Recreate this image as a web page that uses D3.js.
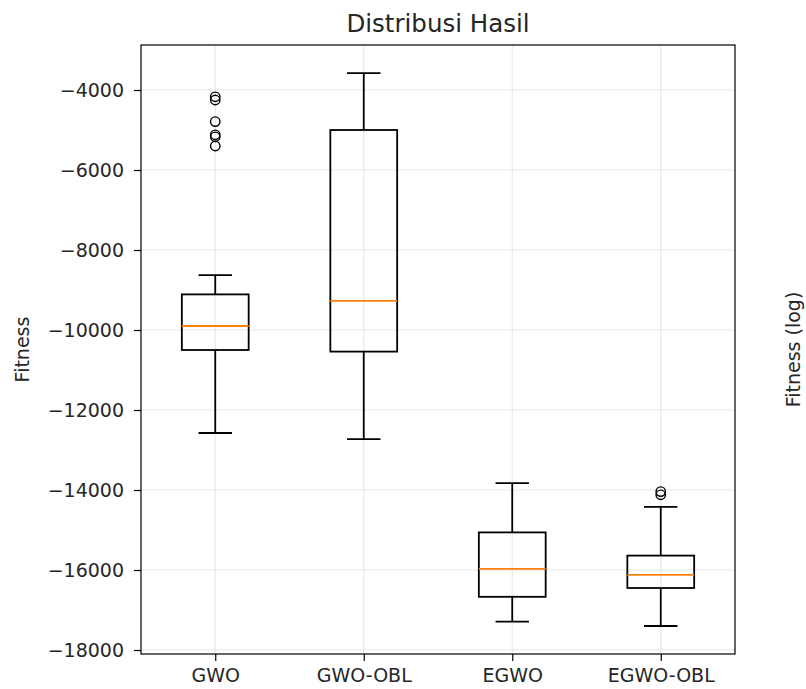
<!DOCTYPE html>
<html>
<head>
    <meta charset="utf-8">
    <title>Distribusi Hasil</title>
    <script src="https://d3js.org/d3.v7.min.js"></script>
    <style>
        body { margin: 0; background: #fff; }
        text { font-family: "DejaVu Sans", sans-serif; fill: #262626; }
        .tick text { font-size: 19px; }
        .grid line { stroke: #b0b0b0; stroke-opacity: 0.3; stroke-width: 1.1px; }
        .box { fill: none; stroke: #000; stroke-width: 1.8px; }
        .median { stroke: #ff7f0e; stroke-width: 1.8px; }
        .flier { fill: none; stroke: #000; stroke-width: 1.4px; }
    </style>
</head>
<body>
    <svg width="806" height="689"></svg>
    <script>
        // values
        var categories = ["GWO", "GWO-OBL", "EGWO", "EGWO-OBL"];
        var whiskerLow  = [-12575, -12730, -17290, -17400];
        var q1          = [-10500, -10540, -16670, -16450];
        var median      = [-9900,  -9270,  -15970, -16120];
        var q3          = [-9110,  -5000,  -15060, -15640];
        var whiskerHigh = [-8630,  -3580,  -13830, -14420];
        var outliers = [
            [-4170, -4250, -4790, -5120, -5170, -5400],
            [],
            [],
            [-14040, -14120]
        ];
        var yTicks = [-18000, -16000, -14000, -12000, -10000, -8000, -6000, -4000];

        var svg = d3.select("svg"),
            margin = {top: 45, right: 71, bottom: 35, left: 141},
            width = +svg.attr("width") - margin.left - margin.right,
            height = +svg.attr("height") - margin.top - margin.bottom;

        var positions = categories.map(function(d, i) { return i + 1; });
        var x = d3.scaleLinear().domain([0.5, 4.5]).range([0, width]);
        var y = d3.scaleLinear().domain([-18100, -2875]).range([height, 0]);
        var boxW = 0.45;

        var g = svg.append("g")
                   .attr("transform", "translate(" + margin.left + "," + margin.top + ")");

        // grid
        g.append("g").attr("class", "grid")
         .selectAll("line").data(yTicks).join("line")
         .attr("x1", 0).attr("x2", width)
         .attr("y1", d => y(d)).attr("y2", d => y(d));
        g.append("g").attr("class", "grid")
         .selectAll("line").data(positions).join("line")
         .attr("y1", 0).attr("y2", height)
         .attr("x1", d => x(d)).attr("x2", d => x(d));

        var data = categories.map(function(c, i) {
            return {pos: positions[i], lo: whiskerLow[i], q1: q1[i], med: median[i],
                    q3: q3[i], hi: whiskerHigh[i], out: outliers[i]};
        });

        var b = g.selectAll(".bx").data(data).join("g").attr("class", "bx");

        // whiskers
        b.append("line").attr("class", "box")
         .attr("x1", d => x(d.pos)).attr("x2", d => x(d.pos))
         .attr("y1", d => y(d.q1)).attr("y2", d => y(d.lo));
        b.append("line").attr("class", "box")
         .attr("x1", d => x(d.pos)).attr("x2", d => x(d.pos))
         .attr("y1", d => y(d.q3)).attr("y2", d => y(d.hi));
        // caps
        b.append("line").attr("class", "box")
         .attr("x1", d => x(d.pos - boxW / 4)).attr("x2", d => x(d.pos + boxW / 4))
         .attr("y1", d => y(d.lo)).attr("y2", d => y(d.lo));
        b.append("line").attr("class", "box")
         .attr("x1", d => x(d.pos - boxW / 4)).attr("x2", d => x(d.pos + boxW / 4))
         .attr("y1", d => y(d.hi)).attr("y2", d => y(d.hi));
        // box
        b.append("rect").attr("class", "box")
         .attr("x", d => x(d.pos - boxW / 2))
         .attr("width", d => x(d.pos + boxW / 2) - x(d.pos - boxW / 2))
         .attr("y", d => y(d.q3))
         .attr("height", d => y(d.q1) - y(d.q3));
        // median
        b.append("line").attr("class", "median")
         .attr("x1", d => x(d.pos - boxW / 2)).attr("x2", d => x(d.pos + boxW / 2))
         .attr("y1", d => y(d.med)).attr("y2", d => y(d.med));
        // fliers
        b.selectAll("circle").data(d => d.out.map(v => ({pos: d.pos, v: v})))
         .join("circle").attr("class", "flier")
         .attr("cx", d => x(d.pos)).attr("cy", d => y(d.v)).attr("r", 4.7);

        // axes
        var yAxis = g.append("g")
         .call(d3.axisLeft(y).tickValues(yTicks).tickFormat(d3.format("d"))
               .tickSize(7).tickPadding(10));
        var xAxis = g.append("g")
         .attr("transform", "translate(0," + height + ")")
         .call(d3.axisBottom(x).tickValues(positions)
               .tickFormat(function(d) { return categories[d - 1]; })
               .tickSize(7).tickPadding(8));
        [xAxis, yAxis].forEach(function(a) {
            a.select(".domain").remove();
            a.selectAll(".tick line").attr("stroke", "#000").attr("stroke-width", 1.2);
        });

        // frame
        g.append("rect")
         .attr("width", width).attr("height", height)
         .attr("fill", "none").attr("stroke", "#000").attr("stroke-width", 1.2);

        svg.append("text")
           .attr("x", margin.left + width / 2).attr("y", 32)
           .attr("text-anchor", "middle").style("font-size", "24.5px")
           .text("Distribusi Hasil");

        svg.append("text")
           .attr("transform", "translate(29," + (margin.top + height / 2) + ") rotate(-90)")
           .attr("text-anchor", "middle").style("font-size", "19px")
           .text("Fitness");

        svg.append("text")
           .attr("transform", "translate(800," + (margin.top + height / 2) + ") rotate(-90)")
           .attr("text-anchor", "middle").style("font-size", "19px")
           .text("Fitness (log)");
    </script>
</body>
</html>
